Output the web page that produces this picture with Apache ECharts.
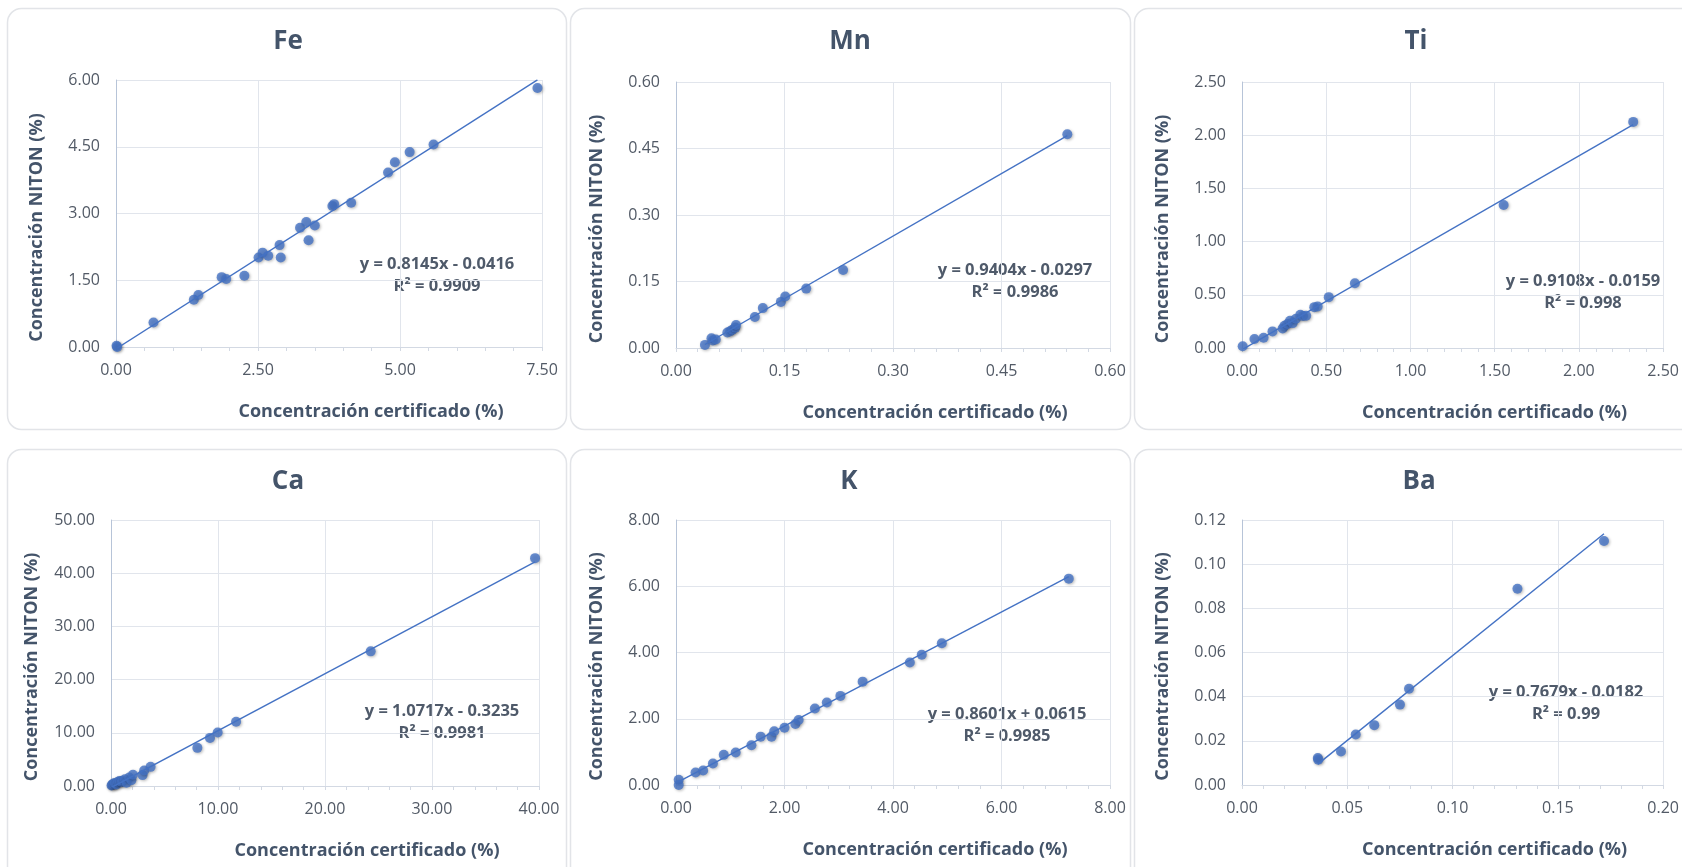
<!DOCTYPE html>
<html>
<head>
<meta charset="utf-8">
<script src="https://cdn.jsdelivr.net/npm/echarts@6/dist/echarts.min.js"></script>
<style>
  html, body { margin: 0; padding: 0; background: #ffffff; }
  #chart { width: 1682px; height: 867px; }
</style>
</head>
<body>
<div id="chart"></div>
<script>
// Certified concentration (x) vs. NITON reading (y), in %
const feCert  = [0.01, 0.02, 0.66, 1.37, 1.45, 1.86, 1.94, 2.26, 2.51, 2.58, 2.68, 2.88, 2.90, 3.24, 3.35, 3.39, 3.50, 3.81, 3.84, 4.14, 4.79, 4.91, 5.17, 5.59, 7.42];
const feNiton = [0.03, 0.00, 0.55, 1.06, 1.17, 1.57, 1.53, 1.60, 2.01, 2.12, 2.05, 2.29, 2.01, 2.68, 2.81, 2.40, 2.73, 3.17, 3.21, 3.24, 3.92, 4.15, 4.38, 4.55, 5.82];

const mnCert  = [0.040, 0.049, 0.051, 0.055, 0.071, 0.075, 0.078, 0.082, 0.083, 0.109, 0.120, 0.145, 0.151, 0.180, 0.231, 0.541];
const mnNiton = [0.007, 0.022, 0.017, 0.019, 0.035, 0.038, 0.041, 0.046, 0.052, 0.070, 0.090, 0.104, 0.116, 0.134, 0.176, 0.482];

const tiCert  = [0.004, 0.074, 0.128, 0.181, 0.241, 0.252, 0.270, 0.285, 0.301, 0.320, 0.346, 0.362, 0.381, 0.429, 0.449, 0.515, 0.670, 1.553, 2.322];
const tiNiton = [0.016, 0.084, 0.097, 0.156, 0.184, 0.209, 0.225, 0.256, 0.234, 0.275, 0.313, 0.300, 0.303, 0.384, 0.391, 0.478, 0.609, 1.344, 2.125];

const caCert  = [0.05, 0.12, 0.20, 0.35, 0.50, 0.65, 0.80, 1.00, 1.05, 1.30, 1.45, 1.70, 1.90, 2.05, 2.95, 3.10, 3.70, 8.07, 9.25, 9.97, 11.69, 24.27, 39.63];
const caNiton = [0.08, 0.25, 0.40, 0.55, 0.30, 0.80, 0.95, 0.75, 1.00, 1.25, 0.60, 1.60, 1.10, 2.10, 2.05, 2.90, 3.60, 7.17, 9.04, 10.04, 12.09, 25.31, 42.83];

const kCert  = [0.05, 0.05, 0.36, 0.50, 0.68, 0.88, 1.10, 1.39, 1.56, 1.76, 1.81, 2.00, 2.20, 2.26, 2.56, 2.78, 3.03, 3.44, 4.31, 4.53, 4.90, 7.24];
const kNiton = [0.16, 0.00, 0.38, 0.44, 0.65, 0.91, 0.98, 1.20, 1.46, 1.46, 1.62, 1.73, 1.84, 1.96, 2.31, 2.49, 2.69, 3.12, 3.70, 3.93, 4.28, 6.23];

const baCert  = [0.0360, 0.0362, 0.0470, 0.0540, 0.0628, 0.0750, 0.0793, 0.1308, 0.1719];
const baNiton = [0.0122, 0.0114, 0.0152, 0.0229, 0.0271, 0.0364, 0.0436, 0.0889, 0.1105];

// Panel names and axis scales
const elements   = ['Fe', 'Mn', 'Ti', 'Ca', 'K', 'Ba'];
const xMax       = [7.5, 0.6, 2.5, 40, 8, 0.2];
const xInterval  = [2.5, 0.15, 0.5, 10, 2, 0.05];
const yMax       = [6, 0.6, 2.5, 50, 8, 0.12];
const yInterval  = [1.5, 0.15, 0.5, 10, 2, 0.02];

// Linear fit of each panel (y = slope·x + intercept) and its R²
const slopes     = [0.8145, 0.9404, 0.9108, 1.0717, 0.8601, 0.7679];
const intercepts = [-0.0416, -0.0297, -0.0159, -0.3235, 0.0615, -0.0182];
const rSquared   = [0.9909, 0.9986, 0.998, 0.9981, 0.9985, 0.99];

const xAxisTitle = 'Concentración certificado (%)';
const yAxisTitle = 'Concentración NITON (%)';

const certSets  = [feCert, mnCert, tiCert, caCert, kCert, baCert];
const nitonSets = [feNiton, mnNiton, tiNiton, caNiton, kNiton, baNiton];

// ---- layout (pixels) ----
const GRID   = [[116, 80, 426, 267], [676, 82, 434, 266], [1242, 82, 428, 266],
                [111, 520, 428, 266], [676, 520, 434, 265], [1242, 520, 428, 265]];
const PANEL  = [[7, 8, 559, 421], [570, 8, 560, 421], [1134, 8, 600, 421],
                [7, 449, 559, 440], [570, 449, 560, 440], [1134, 449, 600, 440]];
const TITLE_POS = [[288, 42], [850, 42], [1416, 42], [288, 482], [849, 482], [1419, 482]];
const EQ_POS    = [[437, 275], [1015, 281], [1583, 292], [442, 722], [1007, 725], [1566, 703]];

const BLUE = '#4472C4';
const TEXT_DARK = '#44546A';
const TICK_TEXT = '#525a66';

function equationText(i) {
  const b = intercepts[i];
  const sign = b < 0 ? '-' : '+';
  return 'y = ' + slopes[i].toFixed(4) + 'x ' + sign + ' ' + Math.abs(b).toFixed(4) +
         '\nR² = ' + String(rSquared[i]);
}

const grid = [], xAxis = [], yAxis = [], series = [], graphic = [];

elements.forEach((el, i) => {
  const [gl, gt, gw, gh] = GRID[i];
  grid.push({ left: gl, top: gt, width: gw, height: gh, containLabel: false });

  xAxis.push({
    type: 'value', gridIndex: i, min: 0, max: xMax[i], interval: xInterval[i],
    name: xAxisTitle, nameLocation: 'middle', nameGap: 56,
    nameTextStyle: { fontFamily: 'Open Sans', fontWeight: 'bold', fontSize: 18, color: TEXT_DARK, padding: [0, 0, 0, 84] },
    axisLine: { show: true, onZero: false, lineStyle: { color: '#d3d9e3', width: 1 } },
    axisTick: { show: true, length: 4, lineStyle: { color: '#d3d9e3' } },
    minorTick: { show: true, splitNumber: 5, length: 4, lineStyle: { color: '#d3d9e3' } },
    splitLine: { show: true, lineStyle: { color: '#e1e5ec', width: 1 } },
    axisLabel: { margin: 15, fontFamily: 'Open Sans', fontSize: 16, color: TICK_TEXT,
                 formatter: v => v.toFixed(2) }
  });

  yAxis.push({
    type: 'value', gridIndex: i, min: 0, max: yMax[i], interval: yInterval[i],
    name: yAxisTitle, nameLocation: 'middle', nameRotate: 90, nameGap: 70,
    nameTextStyle: { fontFamily: 'Open Sans', fontWeight: 'bold', fontSize: 18, color: TEXT_DARK, padding: [0, 28, 0, 0] },
    axisLine: { show: true, onZero: false, lineStyle: { color: '#b7c4d8', width: 1 } },
    axisTick: { show: false },
    splitLine: { show: true, lineStyle: { color: '#e1e5ec', width: 1 } },
    axisLabel: { margin: 16, fontFamily: 'Open Sans', fontSize: 16, color: TICK_TEXT,
                 formatter: v => v.toFixed(2) }
  });

  const xs = certSets[i], ys = nitonSets[i];
  const pts = xs.map((x, k) => [x, ys[k]]);
  const x0 = Math.min.apply(null, xs), x1 = Math.max.apply(null, xs);

  series.push({
    type: 'line', xAxisIndex: i, yAxisIndex: i, symbol: 'none', silent: true,
    data: [[x0, slopes[i] * x0 + intercepts[i]], [x1, slopes[i] * x1 + intercepts[i]]],
    lineStyle: { color: BLUE, width: 1.4 }, z: 3
  });
  series.push({
    type: 'scatter', xAxisIndex: i, yAxisIndex: i, data: pts, symbolSize: 10,
    itemStyle: { color: BLUE, shadowBlur: 3, shadowColor: 'rgba(0,0,0,0.35)', shadowOffsetX: 1, shadowOffsetY: 1 },
    z: 2
  });

  const [px, py, pw, ph] = PANEL[i];
  graphic.push({
    type: 'rect', silent: true, z: -10,
    shape: { x: px + 0.5, y: py + 0.5, width: pw, height: ph, r: 14 },
    style: { fill: 'none', stroke: '#e2e4e8', lineWidth: 1.5 }
  });
  graphic.push({
    type: 'text', silent: true, x: TITLE_POS[i][0], y: TITLE_POS[i][1],
    style: { text: el, align: 'center', verticalAlign: 'middle',
             font: 'bold 26px "Open Sans"', fill: TEXT_DARK }
  });
  graphic.push({
    type: 'text', silent: true, x: EQ_POS[i][0], y: EQ_POS[i][1],
    style: { text: equationText(i), align: 'center', verticalAlign: 'middle',
             font: 'bold 16.5px "Open Sans"', lineHeight: 22, fill: '#4f5a6a' }
  });
});

const chart = echarts.init(document.getElementById('chart'), null, { renderer: 'canvas' });
chart.setOption({
  backgroundColor: '#ffffff',
  animation: false,
  grid, xAxis, yAxis, series, graphic
});
</script>
</body>
</html>
